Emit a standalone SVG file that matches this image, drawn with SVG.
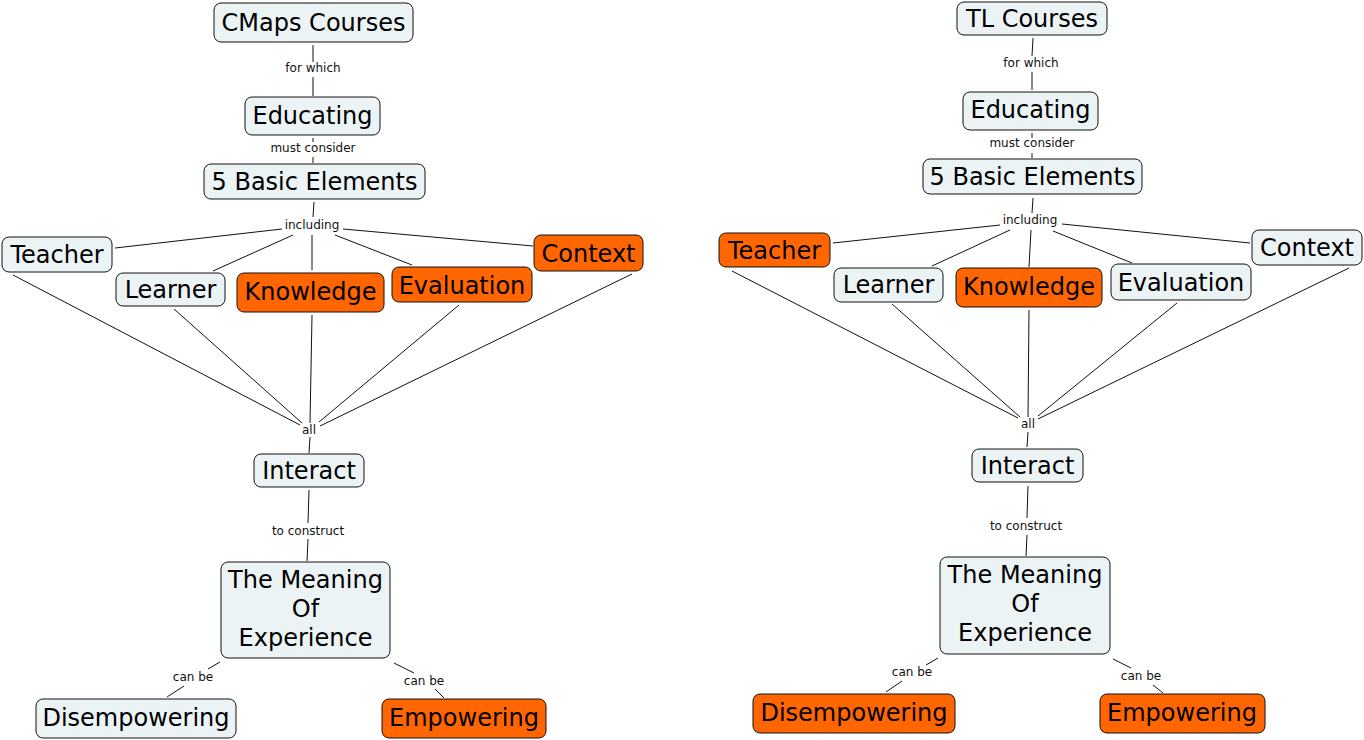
<svg xmlns="http://www.w3.org/2000/svg" width="1364" height="740" viewBox="0 0 1364 740">
<style>
.n rect{fill:#ecf3f5;stroke:#111;stroke-width:1}
.n.o rect{fill:#ff6600}
.n text{font-family:"DejaVu Sans",Verdana,sans-serif;font-size:24px;fill:#000;text-anchor:middle}
.lbl{font-family:"DejaVu Sans",Verdana,sans-serif;font-size:12px;fill:#111;text-anchor:middle}
#connectors line{stroke:#111;stroke-width:1}
</style>
<rect width="1364" height="740" fill="#fff"/>
<g id="connectors">
<line x1="313" y1="45" x2="313" y2="62"/><line x1="313" y1="77" x2="313" y2="96"/>
<line x1="313" y1="138" x2="313" y2="142"/><line x1="313" y1="157" x2="313" y2="163"/>
<line x1="314" y1="202" x2="313" y2="217"/>
<line x1="282" y1="229" x2="115" y2="248"/>
<line x1="293" y1="235" x2="213" y2="271"/>
<line x1="312" y1="235" x2="312" y2="270"/>
<line x1="335" y1="235" x2="412" y2="265"/>
<line x1="343" y1="229" x2="533" y2="246"/>
<line x1="13" y1="275" x2="300" y2="425"/>
<line x1="174" y1="309" x2="302" y2="423"/>
<line x1="312" y1="315" x2="310" y2="423"/>
<line x1="459" y1="305" x2="319" y2="422"/>
<line x1="632" y1="274" x2="320" y2="426"/>
<line x1="310" y1="437" x2="309" y2="453"/>
<line x1="309" y1="490" x2="308" y2="523"/><line x1="308" y1="539" x2="307" y2="561"/>
<line x1="220" y1="662" x2="208" y2="669"/><line x1="184" y1="686" x2="167" y2="697"/>
<line x1="394" y1="663" x2="414" y2="673"/><line x1="435" y1="689" x2="444" y2="698"/>

<line x1="1033" y1="38" x2="1032" y2="56"/><line x1="1032" y1="72" x2="1032" y2="90"/>
<line x1="1032" y1="133" x2="1032" y2="138"/><line x1="1032" y1="153" x2="1032" y2="158"/>
<line x1="1033" y1="198" x2="1032" y2="213"/>
<line x1="1000" y1="225" x2="833" y2="243"/>
<line x1="1010" y1="230" x2="932" y2="266"/>
<line x1="1031" y1="230" x2="1029" y2="267"/>
<line x1="1053" y1="231" x2="1132" y2="263"/>
<line x1="1062" y1="224" x2="1250" y2="243"/>
<line x1="732" y1="271" x2="1018" y2="418"/>
<line x1="892" y1="304" x2="1020" y2="417"/>
<line x1="1029" y1="310" x2="1028" y2="417"/>
<line x1="1177" y1="303" x2="1038" y2="416"/>
<line x1="1349" y1="268" x2="1038" y2="419"/>
<line x1="1028" y1="432" x2="1027" y2="447"/>
<line x1="1028" y1="486" x2="1027" y2="518"/><line x1="1027" y1="535" x2="1026" y2="556"/>
<line x1="938" y1="658" x2="926" y2="665"/><line x1="902" y1="681" x2="886" y2="692"/>
<line x1="1113" y1="659" x2="1131" y2="668"/><line x1="1153" y1="685" x2="1163" y2="693"/>

<text class="lbl" x="313" y="72">for which</text>
<text class="lbl" x="313" y="152">must consider</text>
<text class="lbl" x="312" y="229">including</text>
<text class="lbl" x="309" y="434">all</text>
<text class="lbl" x="308" y="535">to construct</text>
<text class="lbl" x="193" y="681">can be</text>
<text class="lbl" x="424" y="685">can be</text>

<text class="lbl" x="1031" y="67">for which</text>
<text class="lbl" x="1032" y="147">must consider</text>
<text class="lbl" x="1030" y="224">including</text>
<text class="lbl" x="1028" y="428">all</text>
<text class="lbl" x="1026" y="530">to construct</text>
<text class="lbl" x="912" y="676">can be</text>
<text class="lbl" x="1141" y="680">can be</text>
</g>

<g id="L-cmaps" class="n"><rect x="214" y="3" width="199" height="39" rx="7"/><text x="313.5" y="31">CMaps Courses</text></g>
<g id="L-educating" class="n"><rect x="245" y="97" width="135" height="38" rx="7"/><text x="312.5" y="124">Educating</text></g>
<g id="L-elements" class="n"><rect x="204" y="164" width="221" height="35" rx="7"/><text x="314.5" y="190">5 Basic Elements</text></g>
<g id="L-teacher" class="n"><rect x="2" y="237" width="110" height="35" rx="7"/><text x="57" y="263">Teacher</text></g>
<g id="L-learner" class="n"><rect x="116" y="273" width="109" height="33" rx="7"/><text x="170.5" y="298">Learner</text></g>
<g id="L-knowledge" class="n o"><rect x="237" y="273" width="147" height="39" rx="7"/><text x="310.5" y="300">Knowledge</text></g>
<g id="L-evaluation" class="n o"><rect x="392" y="267" width="140" height="35" rx="7"/><text x="462" y="294">Evaluation</text></g>
<g id="L-context" class="n o"><rect x="534" y="235" width="109" height="36" rx="7"/><text x="588.5" y="262">Context</text></g>
<g id="L-interact" class="n"><rect x="254" y="454" width="110" height="33" rx="7"/><text x="309" y="479">Interact</text></g>
<g id="L-meaning" class="n"><rect x="221" y="562" width="169" height="96" rx="7"/><text x="305.5" y="588">The Meaning</text><text x="305.5" y="617">Of</text><text x="305.5" y="646">Experience</text></g>
<g id="L-disempowering" class="n"><rect x="36" y="699" width="200" height="39" rx="7"/><text x="136" y="726">Disempowering</text></g>
<g id="L-empowering" class="n o"><rect x="382" y="699" width="164" height="39" rx="7"/><text x="464" y="726">Empowering</text></g>

<g id="R-tl" class="n"><rect x="957" y="2" width="150" height="33" rx="7"/><text x="1032" y="27">TL Courses</text></g>
<g id="R-educating" class="n"><rect x="963" y="92" width="135" height="38" rx="7"/><text x="1030.5" y="118">Educating</text></g>
<g id="R-elements" class="n"><rect x="923" y="159" width="219" height="35" rx="7"/><text x="1032.5" y="185">5 Basic Elements</text></g>
<g id="R-teacher" class="n o"><rect x="719" y="233" width="111" height="34" rx="7"/><text x="774.5" y="259">Teacher</text></g>
<g id="R-learner" class="n"><rect x="834" y="268" width="109" height="34" rx="7"/><text x="888.5" y="293">Learner</text></g>
<g id="R-knowledge" class="n o"><rect x="956" y="268" width="146" height="39" rx="7"/><text x="1029" y="295">Knowledge</text></g>
<g id="R-evaluation" class="n"><rect x="1111" y="264" width="140" height="36" rx="7"/><text x="1181" y="291">Evaluation</text></g>
<g id="R-context" class="n"><rect x="1252" y="230" width="110" height="35" rx="7"/><text x="1307" y="256">Context</text></g>
<g id="R-interact" class="n"><rect x="972" y="449" width="111" height="33" rx="7"/><text x="1027.5" y="474">Interact</text></g>
<g id="R-meaning" class="n"><rect x="940" y="557" width="170" height="97" rx="7"/><text x="1025" y="583">The Meaning</text><text x="1025" y="612">Of</text><text x="1025" y="641">Experience</text></g>
<g id="R-disempowering" class="n o"><rect x="753" y="694" width="202" height="39" rx="7"/><text x="854" y="721">Disempowering</text></g>
<g id="R-empowering" class="n o"><rect x="1100" y="694" width="165" height="39" rx="7"/><text x="1182" y="721">Empowering</text></g>
</svg>
